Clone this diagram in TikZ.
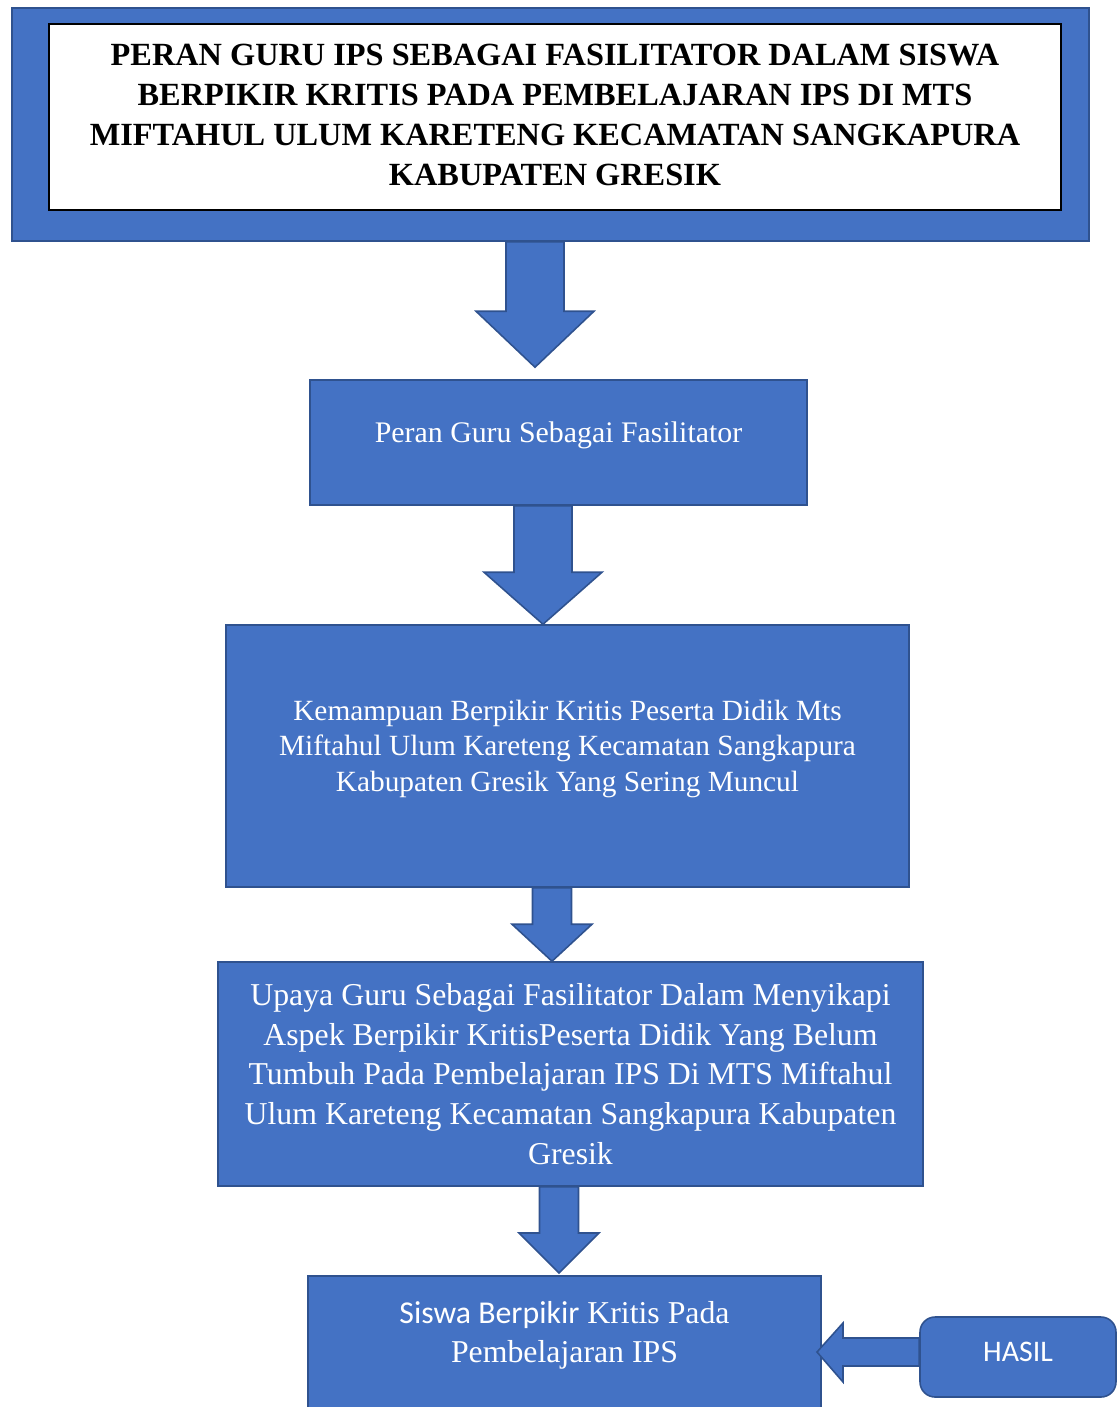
\documentclass[tikz,border=0pt]{standalone}
\usepackage{fontspec}
\setmainfont{Liberation Serif}
\newfontfamily\calibri{Carlito}
\usetikzlibrary{positioning}
\definecolor{wordblue}{HTML}{4472C4}
\definecolor{wordedge}{HTML}{2F528F}
\tikzstyle{frame} = [rectangle, minimum width=21.54cm, minimum height=4.66cm, draw=wordedge, line width=0.9pt, fill=wordblue]
\tikzstyle{titlebox} = [rectangle, minimum width=20.24cm, minimum height=3.72cm, draw=black, line width=0.8pt, fill=white, align=center, text depth=0.08cm, font=\fontsize{18.4}{22.8}\selectfont\bfseries]
\tikzstyle{process} = [rectangle, draw=wordedge, line width=0.9pt, fill=wordblue, text=white, align=center]
\tikzstyle{result} = [rectangle, rounded corners=0.3cm, minimum width=3.92cm, minimum height=1.6cm, draw=wordedge, line width=0.9pt, fill=wordblue, text=white, text depth=0.2cm, font=\calibri\fontsize{17}{20}\selectfont]
\tikzstyle{blockarrow} = [draw=wordedge, line width=0.9pt, fill=wordblue, line join=miter]
% #1 from, #2 to, #3 x, #4 shaft half, #5 head half, #6 head length, #7 gap
\newcommand{\blockdown}[7]{%
  \coordinate (tip) at ([yshift=#7*0.02cm]#3,0 |- #2.north);
  \draw[blockarrow] (#3-#4,0 |- #1.south) -- (#3+#4,0 |- #1.south)
    -- ([shift={(#4,-#6)}]tip) -- ([shift={(#5,-#6)}]tip) -- (tip)
    -- ([shift={(-#5,-#6)}]tip) -- ([shift={(-#4,-#6)}]tip) -- cycle;}

\begin{document}
\begin{tikzpicture}[x=0.02cm, y=-0.02cm]
\useasboundingbox (0,0) rectangle (1117,1407);
\node (frame) [frame] at (550.5,124.5) {};
\node (title) [titlebox] at (555,117) {PERAN GURU IPS SEBAGAI FASILITATOR DALAM SISWA\\BERPIKIR KRITIS PADA PEMBELAJARAN IPS DI MTS\\MIFTAHUL ULUM KARETENG KECAMATAN SANGKAPURA\\KABUPATEN GRESIK};
\node (peran) [process, minimum width=9.94cm, minimum height=2.5cm, text depth=0.41cm, font=\fontsize{17}{20.5}\selectfont] at (558.5,442.5) {Peran Guru Sebagai Fasilitator};
\node (kemampuan) [process, minimum width=13.66cm, minimum height=5.24cm, text depth=0.41cm, font=\fontsize{16.7}{20.3}\selectfont] at (567.5,756) {Kemampuan Berpikir Kritis Peserta Didik Mts\\Miftahul Ulum Kareteng Kecamatan Sangkapura\\Kabupaten Gresik Yang Sering Muncul};
\node (upaya) [process, minimum width=14.1cm, minimum height=4.48cm, font=\fontsize{18.1}{22.6}\selectfont] at (570.5,1074) {Upaya Guru Sebagai Fasilitator Dalam Menyikapi\\Aspek Berpikir KritisPeserta Didik Yang Belum\\Tumbuh Pada Pembelajaran IPS Di MTS Miftahul\\Ulum Kareteng Kecamatan Sangkapura Kabupaten\\Gresik};
\node (siswa) [process, anchor=north, minimum width=10.26cm, inner ysep=0pt, text height=1.74cm, text depth=2.4cm, font=\fontsize{18.1}{22.6}\selectfont] at (564.5,1275) {{\calibri Siswa Berpikir} Kritis Pada\\Pembelajaran IPS};
\node (hasil) [result] at (1018,1357) {HASIL};
\blockdown{frame}{peran}{535}{29}{59}{56}{12}
\blockdown{peran}{kemampuan}{543}{29}{59}{52}{0}
\blockdown{kemampuan}{upaya}{552}{19.5}{40}{37}{0}
\blockdown{upaya}{siswa}{559}{19.5}{40}{40}{2}
\coordinate (hasiltip) at (817,1352);
\draw[blockarrow] (hasil.west |- 0,1338) -- (843,1338) -- (843,1323) -- (hasiltip)
  -- (843,1382) -- (843,1366) -- (hasil.west |- 0,1366) -- cycle;
\end{tikzpicture}
\end{document}
